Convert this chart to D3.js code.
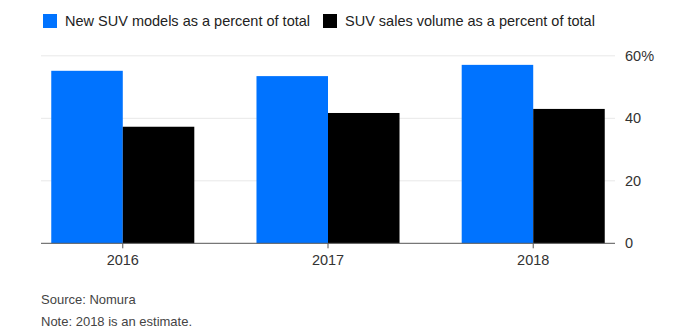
<!DOCTYPE html>
<html lang="en">
<head>
<meta charset="UTF-8">
<title>SUV share</title>
<script src="https://d3js.org/d3.v7.min.js"></script>
<style>
  body { margin: 0; background: #fff; font-family: "Liberation Sans", Arial, sans-serif; }
</style>
</head>
<body>
<script>
    var years = ['2016', '2017', '2018'];
    var seriesNames = ['New SUV models as a percent of total', 'SUV sales volume as a percent of total'];
    var newModels = [55.2, 53.5, 57.1];
    var salesVolume = [37.3, 41.7, 43.0];
    var yTicks = [0, 20, 40, 60];
    var colors = ['#0073ff', '#000000'];

    var width = 688, height = 335;
    var plotLeft = 41, plotRight = 615, plotTop = 55.8, plotBottom = 243.3;

    var svg = d3.select('body').append('svg')
        .attr('width', width)
        .attr('height', height);

    var x = d3.scaleBand()
        .domain(years)
        .range([plotLeft, plotRight])
        .paddingInner(0.303)
        .paddingOuter(0.05);

    var inner = d3.scaleBand()
        .domain([0, 1])
        .range([0, x.bandwidth()]);

    var y = d3.scaleLinear()
        .domain([0, 60])
        .range([plotBottom, plotTop]);

    // gridlines
    svg.selectAll('line.grid')
        .data(yTicks.filter(function(d) { return d > 0; }))
        .enter().append('line')
        .attr('class', 'grid')
        .attr('x1', plotLeft).attr('x2', plotRight)
        .attr('y1', function(d) { return y(d); })
        .attr('y2', function(d) { return y(d); })
        .attr('stroke', '#e8e8e8')
        .attr('stroke-width', 1);

    // right-hand value labels
    svg.selectAll('text.ytick')
        .data(yTicks)
        .enter().append('text')
        .attr('class', 'ytick')
        .attr('x', 625)
        .attr('y', function(d) { return y(d); })
        .attr('dy', '0.35em')
        .attr('font-size', 14.5)
        .attr('fill', '#333')
        .text(function(d) { return d === 60 ? d + '%' : d; });

    // bars
    var rows = years.map(function(yr, i) { return { year: yr, values: [newModels[i], salesVolume[i]] }; });

    var groups = svg.selectAll('g.year')
        .data(rows)
        .enter().append('g')
        .attr('class', 'year')
        .attr('transform', function(d) { return 'translate(' + x(d.year) + ',0)'; });

    groups.selectAll('rect')
        .data(function(d) { return d.values; })
        .enter().append('rect')
        .attr('x', function(d, i) { return inner(i); })
        .attr('width', inner.bandwidth())
        .attr('y', function(d) { return y(d); })
        .attr('height', function(d) { return y(0) - y(d); })
        .attr('fill', function(d, i) { return colors[i]; });

    // baseline and x axis
    var xAxis = svg.append('g')
        .attr('transform', 'translate(0,' + plotBottom + ')')
        .call(d3.axisBottom(x).tickSize(5).tickPadding(6));
    xAxis.select('.domain').remove();
    xAxis.selectAll('.tick line').attr('stroke', '#555');
    xAxis.selectAll('.tick text')
        .attr('font-family', '"Liberation Sans", Arial, sans-serif')
        .attr('font-size', 14.5)
        .attr('fill', '#333');
    svg.append('line')
        .attr('x1', plotLeft).attr('x2', plotRight)
        .attr('y1', plotBottom).attr('y2', plotBottom)
        .attr('stroke', '#555')
        .attr('stroke-width', 1);

    // legend
    var legendX = [43, 323];
    var legend = svg.selectAll('g.legend')
        .data(seriesNames)
        .enter().append('g')
        .attr('class', 'legend')
        .attr('transform', function(d, i) { return 'translate(' + legendX[i] + ',14)'; });
    legend.append('rect')
        .attr('width', 14).attr('height', 14)
        .attr('fill', function(d, i) { return colors[i]; });
    legend.append('text')
        .attr('x', 22).attr('y', 7)
        .attr('dy', '0.35em')
        .attr('font-size', 14.5)
        .attr('fill', '#222')
        .text(function(d) { return d; });

    // footnotes
    svg.append('text')
        .attr('x', 41).attr('y', 304)
        .attr('font-size', 13)
        .attr('fill', '#444')
        .text('Source: Nomura');
    svg.append('text')
        .attr('x', 41).attr('y', 326)
        .attr('font-size', 13)
        .attr('fill', '#444')
        .text('Note: 2018 is an estimate.');
</script>
</body>
</html>
